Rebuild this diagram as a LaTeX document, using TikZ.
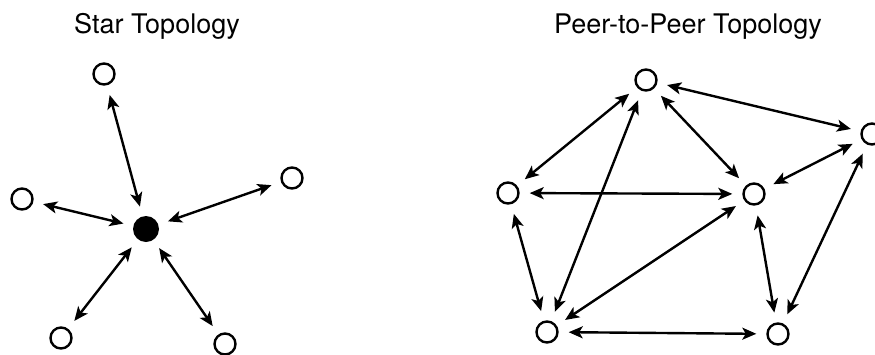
\documentclass[tikz,border=0pt]{standalone}
\usepackage{fontspec}
\setmainfont{TeX Gyre Heros}
\usetikzlibrary{arrows.meta}

\begin{document}
\begin{tikzpicture}[x=1pt, y=-1pt,
    peer/.style={circle, draw, line width=2.4pt, minimum size=21pt, inner sep=0pt},
    hub/.style={circle, fill=black, minimum size=26pt, inner sep=0pt},
    link/.style={{Stealth[length=14pt,width=12pt,inset=3.5pt]}-{Stealth[length=14pt,width=12pt,inset=3.5pt]},
                 line width=2.4pt, shorten >=10pt, shorten <=10pt},
    title/.style={anchor=base, font=\fontsize{27}{32}\selectfont}]
   \useasboundingbox (0,0) rectangle (875,354);

   % Titles
   \node[title] (startitle) at (157,33) {Star Topology};
   \node[title] (p2ptitle) at (688,33) {Peer-to-Peer Topology};

   % Star nodes
   \node[hub] (hub) at (146,229) {};
   \node[peer] (s1) at (104,74) {};
   \node[peer] (s2) at (22,199) {};
   \node[peer] (s3) at (292,178) {};
   \node[peer] (s4) at (61,338) {};
   \node[peer] (s5) at (225,344) {};

   % Peer-to-peer nodes
   \node[peer] (p1) at (646,80) {};
   \node[peer] (p2) at (872,134) {};
   \node[peer] (p3) at (508,193) {};
   \node[peer] (p4) at (754,194) {};
   \node[peer] (p5) at (547,332) {};
   \node[peer] (p6) at (778,334) {};

   % Star links
   \path[link]
    (hub) edge (s1)
    (hub) edge (s2)
    (hub) edge (s3)
    (hub) edge (s4)
    (hub) edge (s5);

   % Peer links
   \path[link]
    (p1) edge (p3)
    (p1) edge (p5)
    (p1) edge (p4)
    (p1) edge (p2)
    (p3) edge (p4)
    (p3) edge (p5)
    (p4) edge (p2)
    (p4) edge (p5)
    (p4) edge (p6)
    (p2) edge (p6)
    (p5) edge (p6);
\end{tikzpicture}
\end{document}
